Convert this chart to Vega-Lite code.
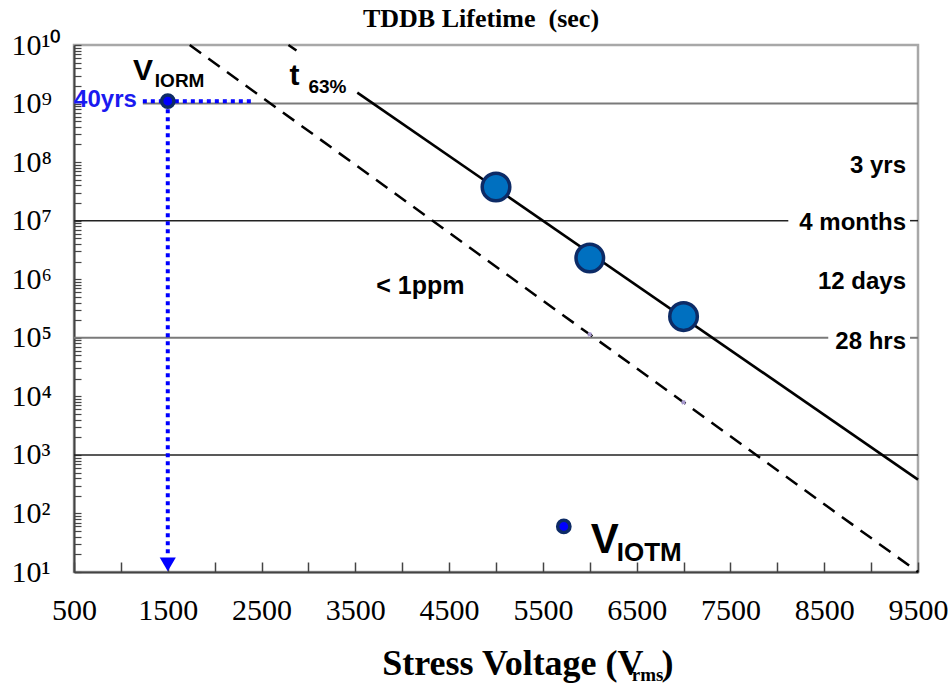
{
  "$schema": "https://vega.github.io/schema/vega-lite/v6.json",
  "width": 844,
  "height": 527,
  "autosize": {"type": "none"},
  "padding": {"left": 74, "top": 45, "right": 33, "bottom": 111},
  "background": "white",
  "config": {
    "view": {"stroke": "#a8a8a8", "strokeWidth": 2.5},
    "axis": {"grid": false}
  },
  "layer": [
    {
      "data": {"values": [
        {"t": 1e9, "V": 1234, "V2": 9500},
        {"t": 1e5, "V": 500, "V2": 8543},
        {"t": 1e5, "V": 9415, "V2": 9500}
      ]},
      "mark": {"type": "rule", "color": "#7a7a7a", "strokeWidth": 2},
      "encoding": {
        "x": {"field": "V", "type": "quantitative",
          "scale": {"domain": [500, 9500], "nice": false, "zero": false},
          "axis": {
            "title": null,
            "values": [500,1000,1500,2000,2500,3000,3500,4000,4500,5000,5500,6000,6500,7000,7500,8000,8500,9000,9500],
            "format": "d",
            "labelExpr": "datum.value % 1000 == 500 ? datum.label : ''",
            "labelOverlap": false,
            "labelFlush": false,
            "labelFont": "Liberation Serif",
            "labelFontSize": 30,
            "labelColor": "black",
            "labelPadding": 33,
            "tickSize": -10,
            "tickColor": "#444",
            "tickWidth": 1.5,
            "domainColor": "#444",
            "domainWidth": 2
          }
        },
        "x2": {"field": "V2"},
        "y": {"field": "t", "type": "quantitative",
          "scale": {"type": "log", "domain": [10, 1e10], "nice": false},
          "axis": {
            "title": null,
            "values": [10,20,30,40,50,60,70,80,90,100,200,300,400,500,600,700,800,900,1000,2000,3000,4000,5000,6000,7000,8000,9000,10000,20000,30000,40000,50000,60000,70000,80000,90000,100000,200000,300000,400000,500000,600000,700000,800000,900000,1e6,2e6,3e6,4e6,5e6,6e6,7e6,8e6,9e6,1e7,2e7,3e7,4e7,5e7,6e7,7e7,8e7,9e7,1e8,2e8,3e8,4e8,5e8,6e8,7e8,8e8,9e8,1e9,2e9,3e9,4e9,5e9,6e9,7e9,8e9,9e9,1e10],
            "labelExpr": "abs(log(datum.value)/LN10 - round(log(datum.value)/LN10)) < 0.001 ? '10' + ['⁰','¹','²','³','⁴','⁵','⁶','⁷','⁸','⁹','¹⁰'][round(log(datum.value)/LN10)] : ''",
            "labelOverlap": false,
            "labelFlush": false,
            "labelAlign": "left",
            "labelBaseline": "middle",
            "labelFont": "Liberation Serif",
            "labelFontSize": 30,
            "labelColor": "black",
            "labelPadding": 70,
            "tickSize": -7,
            "tickColor": "#444",
            "tickWidth": 1.2,
            "domainColor": "#444",
            "domainWidth": 2
          }
        }
      }
    },
    {
      "data": {"values": [
        {"t": 1e7, "V": 500, "V2": 8117},
        {"t": 1e7, "V": 9415, "V2": 9500},
        {"t": 1e3, "V": 500, "V2": 9500}
      ]},
      "mark": {"type": "rule", "color": "#222", "strokeWidth": 1.5},
      "encoding": {
        "x": {"field": "V", "type": "quantitative"},
        "x2": {"field": "V2"},
        "y": {"field": "t", "type": "quantitative"}
      }
    },
    {
      "data": {"values": [
        {"seg": "h", "V": 1234, "t": 1.1e9},
        {"seg": "h", "V": 2404, "t": 1.1e9},
        {"seg": "v", "V": 1500, "t": 1.1e9},
        {"seg": "v", "V": 1500, "t": 20}
      ]},
      "mark": {"type": "line", "color": "#0000ff", "strokeWidth": 4, "strokeDash": [4, 4], "strokeCap": "butt"},
      "encoding": {
        "x": {"field": "V", "type": "quantitative"},
        "y": {"field": "t", "type": "quantitative"},
        "detail": {"field": "seg"}
      }
    },
    {
      "data": {"values": [
        {"V": 1500, "t": 13.5}
      ]},
      "mark": {"type": "point", "shape": "triangle-down", "filled": true, "color": "#0000ff", "size": 260, "opacity": 1},
      "encoding": {
        "x": {"field": "V", "type": "quantitative"},
        "y": {"field": "t", "type": "quantitative"}
      }
    },
    {
      "data": {"values": [
        {"V": 1734, "t": 1e10},
        {"V": 9500, "t": 10}
      ]},
      "mark": {"type": "line", "color": "black", "strokeWidth": 2.5, "strokeDash": [14, 9]},
      "encoding": {
        "x": {"field": "V", "type": "quantitative"},
        "y": {"field": "t", "type": "quantitative"}
      }
    },
    {
      "data": {"values": [
        {"seg": "a", "V": 2787, "t": 1e10},
        {"seg": "a", "V": 2872, "t": 8.05e9},
        {"seg": "b", "V": 3521, "t": 1.535e9},
        {"seg": "b", "V": 9500, "t": 379}
      ]},
      "mark": {"type": "line", "color": "black", "strokeWidth": 2.6},
      "encoding": {
        "x": {"field": "V", "type": "quantitative"},
        "y": {"field": "t", "type": "quantitative"},
        "detail": {"field": "seg"}
      }
    },
    {
      "data": {"values": [
        {"V": 6000, "t": 1.14e5},
        {"V": 7000, "t": 7.9e3}
      ]},
      "mark": {"type": "point", "shape": "cross", "angle": 45, "filled": true, "color": "#a89ad0", "size": 22, "opacity": 1},
      "encoding": {
        "x": {"field": "V", "type": "quantitative"},
        "y": {"field": "t", "type": "quantitative"}
      }
    },
    {
      "data": {"values": [
        {"V": 5000, "t": 3.75e7},
        {"V": 6000, "t": 2.3e6},
        {"V": 7000, "t": 2.3e5}
      ]},
      "mark": {"type": "point", "shape": "circle", "filled": true, "fill": "#0070c0", "stroke": "#0d2b66", "strokeWidth": 3.5, "size": 760, "opacity": 1},
      "encoding": {
        "x": {"field": "V", "type": "quantitative"},
        "y": {"field": "t", "type": "quantitative"}
      }
    },
    {
      "data": {"values": [
        {"V": 1500, "t": 1.1e9},
        {"V": 5723, "t": 60}
      ]},
      "mark": {"type": "point", "shape": "circle", "filled": true, "fill": "#0000ff", "stroke": "#0d2b66", "strokeWidth": 3.5, "size": 150, "opacity": 1},
      "encoding": {
        "x": {"field": "V", "type": "quantitative"},
        "y": {"field": "t", "type": "quantitative"}
      }
    },
    {
      "data": {"values": [
        {"V": 4840, "t": 2.03e10, "label": "TDDB Lifetime\u00a0 (sec)"}
      ]},
      "mark": {"type": "text", "font": "Liberation Serif", "fontWeight": "bold", "fontSize": 26, "align": "center", "baseline": "alphabetic", "color": "black"},
      "encoding": {
        "x": {"field": "V", "type": "quantitative"},
        "y": {"field": "t", "type": "quantitative"},
        "text": {"field": "label"}
      }
    },
    {
      "data": {"values": [
        {"V": 1128, "t": 2.5e9, "label": "V"},
        {"V": 2798, "t": 2.07e9, "label": "t"}
      ]},
      "mark": {"type": "text", "font": "Liberation Sans", "fontWeight": "bold", "fontSize": 30, "align": "left", "baseline": "alphabetic", "color": "black"},
      "encoding": {
        "x": {"field": "V", "type": "quantitative"},
        "y": {"field": "t", "type": "quantitative"},
        "text": {"field": "label"}
      }
    },
    {
      "data": {"values": [
        {"V": 1362, "t": 1.91e9, "label": "IORM"},
        {"V": 3000, "t": 1.51e9, "label": "63%"}
      ]},
      "mark": {"type": "text", "font": "Liberation Sans", "fontWeight": "bold", "fontSize": 19, "align": "left", "baseline": "alphabetic", "color": "black"},
      "encoding": {
        "x": {"field": "V", "type": "quantitative"},
        "y": {"field": "t", "type": "quantitative"},
        "text": {"field": "label"}
      }
    },
    {
      "data": {"values": [
        {"V": 1170, "t": 8.67e8, "label": "40yrs"}
      ]},
      "mark": {"type": "text", "font": "Liberation Sans", "fontWeight": "bold", "fontSize": 24, "align": "right", "baseline": "alphabetic", "color": "#1a1af0"},
      "encoding": {
        "x": {"field": "V", "type": "quantitative"},
        "y": {"field": "t", "type": "quantitative"},
        "text": {"field": "label"}
      }
    },
    {
      "data": {"values": [
        {"V": 6011, "t": 20.8, "label": "V"}
      ]},
      "mark": {"type": "text", "font": "Liberation Sans", "fontWeight": "bold", "fontSize": 42, "align": "left", "baseline": "alphabetic", "color": "black"},
      "encoding": {
        "x": {"field": "V", "type": "quantitative"},
        "y": {"field": "t", "type": "quantitative"},
        "text": {"field": "label"}
      }
    },
    {
      "data": {"values": [
        {"V": 6287, "t": 15.2, "label": "IOTM"}
      ]},
      "mark": {"type": "text", "font": "Liberation Sans", "fontWeight": "bold", "fontSize": 26, "align": "left", "baseline": "alphabetic", "color": "black"},
      "encoding": {
        "x": {"field": "V", "type": "quantitative"},
        "y": {"field": "t", "type": "quantitative"},
        "text": {"field": "label"}
      }
    },
    {
      "data": {"values": [
        {"V": 3723, "t": 5.66e5, "label": "< 1ppm"}
      ]},
      "mark": {"type": "text", "font": "Liberation Sans", "fontWeight": "bold", "fontSize": 25, "align": "left", "baseline": "alphabetic", "color": "black"},
      "encoding": {
        "x": {"field": "V", "type": "quantitative"},
        "y": {"field": "t", "type": "quantitative"},
        "text": {"field": "label"}
      }
    },
    {
      "data": {"values": [
        {"V": 9372, "t": 6.43e7, "label": "3 yrs"},
        {"V": 9372, "t": 6.8e6, "label": "4 months"},
        {"V": 9372, "t": 6.9e5, "label": "12 days"},
        {"V": 9372, "t": 6.49e4, "label": "28 hrs"}
      ]},
      "mark": {"type": "text", "font": "Liberation Sans", "fontWeight": "bold", "fontSize": 24, "align": "right", "baseline": "alphabetic", "color": "black"},
      "encoding": {
        "x": {"field": "V", "type": "quantitative"},
        "y": {"field": "t", "type": "quantitative"},
        "text": {"field": "label"}
      }
    },
    {
      "data": {"values": [
        {"V": 3787, "t": 0.1766, "label": "Stress Voltage (V"},
        {"V": 6766, "t": 0.1766, "label": ")"}
      ]},
      "mark": {"type": "text", "font": "Liberation Serif", "fontWeight": "bold", "fontSize": 36, "align": "left", "baseline": "alphabetic", "color": "black"},
      "encoding": {
        "x": {"field": "V", "type": "quantitative"},
        "y": {"field": "t", "type": "quantitative"},
        "text": {"field": "label"}
      }
    },
    {
      "data": {"values": [
        {"V": 6447, "t": 0.139, "label": "rms"}
      ]},
      "mark": {"type": "text", "font": "Liberation Serif", "fontWeight": "bold", "fontSize": 19, "align": "left", "baseline": "alphabetic", "color": "black"},
      "encoding": {
        "x": {"field": "V", "type": "quantitative"},
        "y": {"field": "t", "type": "quantitative"},
        "text": {"field": "label"}
      }
    }
  ]
}
